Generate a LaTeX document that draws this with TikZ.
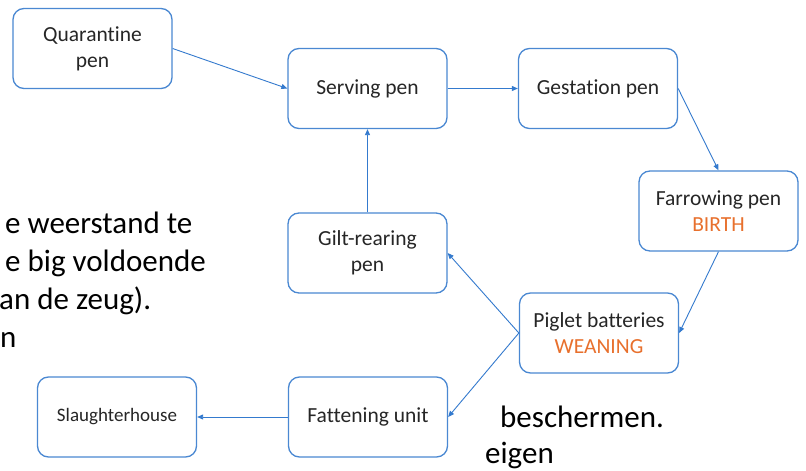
\documentclass[tikz,border=0pt]{standalone}
\usepackage{fontspec}
\setmainfont{Carlito}[Ligatures=NoCommon]
\usetikzlibrary{arrows.meta}
\definecolor{boxblue}{RGB}{74,136,210}
\definecolor{arrblue}{RGB}{52,122,206}
\definecolor{weanorange}{RGB}{232,112,45}
\definecolor{txt}{RGB}{38,38,38}
\begin{document}
\begin{tikzpicture}[x=1pt,y=-1pt,
  pen/.style={draw=boxblue, line width=1.3pt, rounded corners=11pt,
    minimum width=159pt, minimum height=80pt, align=center, text=txt,
    font=\fontsize{21.5}{26}\selectfont, inner sep=0pt, fill=white},
  flow/.style={draw=arrblue, line width=0.9pt, -{Triangle[length=6pt,width=5pt]}},
  bgtext/.style={font=\fontsize{31}{38}\selectfont, anchor=base west, inner sep=0pt, text=black},
  orangetxt/.style={text=weanorange}]
\useasboundingbox (0,0) rectangle (806,471);
\fill[white] (0,0) rectangle (806,471);

\begin{scope}
\clip (0,0) rectangle (806,471);
\node[bgtext] (t1) at (5,233) {e weerstand te};
\node[bgtext] (t2) at (5,271) {e big voldoende};
\node[bgtext] (t3) at (-1,309) {an de zeug).};
\node[bgtext] (t4) at (0,347) {n};
\node[bgtext] (t5) at (500,427) {beschermen.};
\node[bgtext] (t6) at (485,463) {eigen};
\end{scope}

\node[pen] (quar) at (92.5,48.5) {Quarantine\\pen};
\node[pen] (serv) at (367.5,88.5) {Serving pen};
\node[pen] (gest) at (598,88.5) {Gestation pen};
\node[pen] (farr) at (718.5,211) {Farrowing pen\\\textcolor{weanorange}{BIRTH}};
\node[pen] (gilt) at (367.5,253) {Gilt-rearing\\pen};
\node[pen] (pigl) at (599,333) {Piglet batteries\\\textcolor{weanorange}{WEANING}};
\node[pen] (fatt) at (368,417) {Fattening unit};
\node[pen, font=\fontsize{19}{23}\selectfont] (slau) at (117,417) {Slaughterhouse};

\draw[flow] (quar.east) -- (serv.west);
\draw[flow] (serv.east) -- (gest.west);
\draw[flow] (gest.east) -- (farr.north);
\draw[flow] (farr.south) -- (pigl.east);
\draw[flow] (pigl.west) -- (gilt.east);
\draw[flow] (pigl.west) -- (fatt.east);
\draw[flow] (fatt.west) -- (slau.east);
\draw[flow] (gilt.north) -- (serv.south);
\end{tikzpicture}
\end{document}
